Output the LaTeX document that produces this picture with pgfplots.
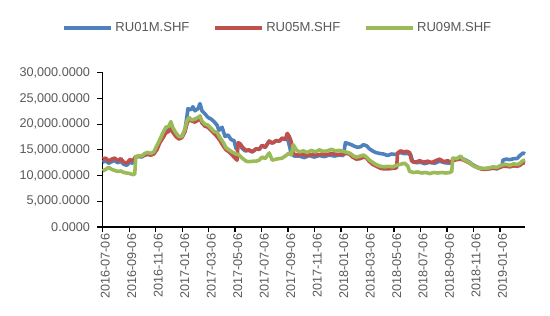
\documentclass[border=0pt]{standalone}
\usepackage{pgfplots}
\usepackage{pgfplotstable}
\pgfplotsset{compat=1.18}
\usepackage{fontspec}
\setmainfont{Liberation Sans}
\definecolor{cblue}{HTML}{4F81BD}
\definecolor{cred}{HTML}{C0504D}
\definecolor{cgreen}{HTML}{9BBB59}
\definecolor{tgray}{HTML}{595959}
% x = horizontal position (104 = 2016-07-06, 26.4 per two months)
\pgfplotstableread{
x y
104 12600
107 12900
110 12400
113 12700
116 12900
119 12500
122 12800
125 12200
128 12000
131 12600
134 12400
137 13600
140 13800
143 13600
146 14000
149 14200
152 14000
155 14300
158 15200
161 16600
164 17600
167 18600
170 18900
172 19600
174 18600
177 17900
180 17300
183 17600
186 18800
188 21500
189 23000
192 22800
194 23400
196 22600
199 23000
201 24000
203 22600
206 22000
209 21300
212 21000
215 20500
218 19800
220 18800
223 19400
226 17600
229 17900
232 17000
235 16800
237 15200
240 16200
243 15300
246 14800
250 14900
253 14600
257 15200
260 15100
263 15800
266 15500
270 16700
273 16300
277 16800
280 16700
283 17200
286 17100
288 17500
292 14300
295 13800
300 13800
305 13500
310 13900
315 13600
320 13900
325 13700
330 14000
335 13800
340 14000
344 13900
346 16400
349 16200
352 16000
355 15700
358 15500
361 15600
364 16000
367 15800
370 15200
373 14800
376 14500
380 14300
384 14200
388 13900
392 14200
396 14100
400 14500
404 14300
408 14300
411 14100
413 12700
417 12500
421 12600
425 12300
430 12600
435 12400
440 12800
445 12500
450 12400
453 13000
457 13200
461 13400
465 13100
469 12700
473 12100
477 11700
481 11400
485 11300
489 11400
493 11500
497 11300
500 11600
502 11800
503 13000
506 13200
510 13100
514 13300
517 13300
520 13900
523 14400
525 14200
}\tblA
\pgfplotstableread{
x y
104 13200
107 13400
110 12800
113 13200
116 13400
119 12900
122 13300
125 12600
128 12400
131 13100
134 12900
137 13700
140 13700
143 13800
146 14000
149 14100
152 14000
155 14200
158 15000
161 16400
164 17300
167 18300
170 18600
172 19200
174 18400
177 17600
180 17100
183 17400
186 18500
188 20000
190 21000
193 20600
196 20400
199 20800
201 21000
203 20200
206 19600
209 19400
212 18800
215 18200
218 17600
221 16800
224 15800
227 15000
230 14600
233 14000
236 13400
238 13000
239 16400
241 16200
244 15400
247 14900
250 15000
253 14600
257 15200
260 15100
263 15900
266 15500
270 16700
273 16300
277 16800
280 16700
283 17300
286 17000
288 18200
290 17600
292 16600
294 14200
298 14000
303 14100
308 13900
313 14100
318 14000
323 14200
328 14100
333 14300
338 14100
343 14200
346 14300
350 14200
353 13600
357 13200
361 13300
364 13600
367 13400
370 12700
373 12200
377 11800
381 11400
385 11300
389 11300
393 11400
397 11500
398 14400
401 14800
404 14600
407 14700
410 14500
412 12800
416 12600
420 12900
424 12600
428 12800
432 12500
436 12900
440 13200
444 12700
448 12900
451 12600
453 12900
457 13100
461 13200
465 12900
469 12500
473 12000
477 11600
481 11300
485 11200
489 11300
493 11400
497 11400
500 11600
503 11800
506 11800
510 11700
514 11900
517 11800
520 12000
523 12500
525 12400
}\tblB
\pgfplotstableread{
x y
104 10900
107 11200
110 11600
113 11200
116 11000
119 10800
122 10900
125 10600
128 10500
131 10400
134 10200
136 10300
137 13600
140 13900
143 13800
146 14300
149 14500
152 14300
155 14600
158 15800
161 17000
164 18300
167 19400
170 19600
172 20500
174 19300
177 18300
180 17600
183 17600
186 19000
188 20600
190 21300
193 20800
196 21000
199 21300
201 21600
203 20600
206 20000
209 19800
212 19200
215 18600
218 18400
221 17400
224 16500
227 15400
230 15000
233 14600
236 14300
240 14000
243 13400
247 12800
250 12700
254 12800
257 12800
260 13000
263 13600
266 13300
270 14400
273 13000
277 13200
280 13300
283 13400
286 13800
290 14400
292 14000
294 16000
297 15000
300 14600
304 14800
308 14500
312 14900
316 14600
320 15000
324 14700
328 14800
332 15100
336 14800
340 14900
344 14700
348 14500
351 14300
354 13800
357 13600
361 13800
364 14000
367 13600
370 13000
373 12600
377 12100
381 11800
385 11700
389 11800
393 11700
397 12000
401 12200
405 12400
408 11900
410 10800
414 10600
418 10700
422 10500
426 10600
430 10400
434 10600
438 10500
442 10600
446 10500
450 10600
452 10800
453 13400
457 13300
461 13800
463 13200
466 12900
469 12600
473 12000
477 11600
481 11400
485 11400
489 11500
493 11700
497 11600
500 11900
503 12100
506 12200
510 12000
514 12300
517 12100
520 12400
523 12900
525 13000
}\tblC
\begin{document}
\begin{tikzpicture}
\path[use as bounding box] (0,0) rectangle (412.5pt,236.25pt);
\begin{axis}[
  at={(77pt,66pt)}, anchor=south west,
  scale only axis, width=316.75pt, height=115.7pt,
  xmin=104, xmax=525, ymin=0, ymax=30000,
  axis lines*=left,
  axis line style={black, line width=0.9pt},
  tick style={black, line width=0.9pt},
  tick align=outside, major tick length=4pt,
  xtick={104,130.4,...,500},
  xticklabels={2016-07-06,2016-09-06,2016-11-06,2017-01-06,2017-03-06,2017-05-06,2017-07-06,2017-09-06,2017-11-06,2018-01-06,2018-03-06,2018-05-06,2018-07-06,2018-09-06,2018-11-06,2019-01-06},
  x tick label style={rotate=90, anchor=east, font=\fontsize{9.5}{11}\selectfont, text=tgray, inner sep=1pt, yshift=-2pt},
  ytick={0,5000,...,30000},
  y tick label style={font=\fontsize{9.5}{11}\selectfont, text=tgray, xshift=-2pt},
  yticklabel={\pgfmathprintnumber[fixed, fixed zerofill, precision=4, 1000 sep={,}, assume math mode=true]{\tick}},
  scaled y ticks=false,
  clip=false,
  legend columns=3,
  legend style={at={(0.4157,1.29)}, anchor=center, draw=none, fill=none,
    font=\fontsize{9.8}{11}\selectfont, text=tgray,
    /tikz/every even column/.append style={column sep=16pt}},
  legend image code/.code={\draw[#1, line width=2.6pt] (0pt,0pt) -- (35pt,0pt);},
  every axis plot/.append style={line width=2.7pt, line join=round, mark=none},
]
\addplot[cblue] table[x=x,y=y]{\tblA};
\addplot[cred] table[x=x,y=y]{\tblB};
\addplot[cgreen] table[x=x,y=y]{\tblC};
\legend{RU01M.SHF,RU05M.SHF,RU09M.SHF}
\end{axis}
\end{tikzpicture}
\end{document}
